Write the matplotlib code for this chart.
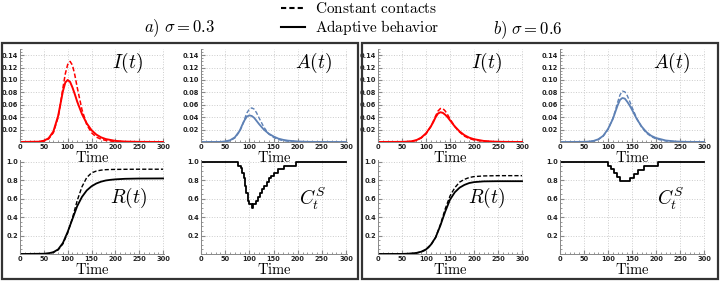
import matplotlib
matplotlib.use("Agg")
import matplotlib.pyplot as plt
from matplotlib.lines import Line2D
from matplotlib.patches import Rectangle
from matplotlib.ticker import MultipleLocator, FormatStrFormatter

plt.rcParams['mathtext.fontset'] = 'cm'

# ---- data ----
# sigma = 0.3
t_i1 = [0, 40, 50, 60, 70, 80, 85, 90, 95, 100, 105, 110, 115, 120, 130, 140, 150, 160, 170, 180, 200, 220, 250, 300]
i1_adapt = [0, 0.0005, 0.002, 0.006, 0.017, 0.042, 0.062, 0.082, 0.096, 0.100, 0.097, 0.088, 0.077, 0.065,
            0.045, 0.030, 0.019, 0.012, 0.0075, 0.0047, 0.0018, 0.0007, 0.0002, 0]
i1_const = [0, 0.0004, 0.0015, 0.005, 0.015, 0.040, 0.062, 0.087, 0.110, 0.125, 0.130, 0.124, 0.108, 0.088,
            0.052, 0.028, 0.015, 0.008, 0.0045, 0.0025, 0.0008, 0.0003, 0.0001, 0]
a1_adapt = [0, 0.0002, 0.001, 0.0028, 0.0075, 0.018, 0.027, 0.035, 0.041, 0.043, 0.042, 0.039, 0.034, 0.029,
            0.020, 0.0135, 0.009, 0.0055, 0.0035, 0.0022, 0.0009, 0.0003, 0.0001, 0]
a1_const = [0, 0.0002, 0.0007, 0.002, 0.0065, 0.017, 0.026, 0.037, 0.047, 0.053, 0.055, 0.053, 0.047, 0.039,
            0.024, 0.013, 0.0075, 0.004, 0.0023, 0.0013, 0.0004, 0.0001, 0, 0]
t_r = [0, 50, 60, 70, 80, 90, 100, 110, 120, 130, 140, 150, 160, 170, 180, 190, 200, 220, 250, 300]
r1_adapt = [0, 0.003, 0.008, 0.02, 0.05, 0.12, 0.24, 0.38, 0.52, 0.62, 0.69, 0.735, 0.765, 0.785, 0.798,
            0.805, 0.81, 0.816, 0.819, 0.82]
r1_const = [0, 0.002, 0.006, 0.017, 0.045, 0.11, 0.23, 0.39, 0.58, 0.73, 0.83, 0.88, 0.90, 0.91, 0.915,
            0.917, 0.918, 0.919, 0.92, 0.92]
t_c1 = [0, 77, 82, 85, 88, 91, 94, 97, 100, 106, 108, 114, 118, 122, 126, 131, 136, 140, 145, 150, 160, 172, 196, 300]
c1 = [1.0, 0.96, 0.93, 0.88, 0.82, 0.74, 0.66, 0.58, 0.54, 0.50, 0.54, 0.58, 0.62, 0.66, 0.70, 0.74, 0.78,
      0.82, 0.85, 0.88, 0.92, 0.96, 1.0, 1.0]

# sigma = 0.6
t_i2 = [0, 50, 60, 70, 80, 90, 100, 110, 115, 120, 125, 130, 135, 140, 145, 150, 160, 170, 180, 190, 200,
        220, 240, 260, 300]
i2_adapt = [0, 0.0002, 0.0005, 0.0012, 0.003, 0.007, 0.014, 0.025, 0.032, 0.040, 0.046, 0.048, 0.047, 0.044,
            0.040, 0.035, 0.025, 0.017, 0.011, 0.007, 0.0045, 0.0017, 0.0006, 0.0002, 0]
i2_const = [0, 0.0001, 0.0004, 0.001, 0.0027, 0.0065, 0.013, 0.025, 0.033, 0.042, 0.050, 0.054, 0.054, 0.050,
            0.044, 0.037, 0.025, 0.016, 0.0095, 0.0057, 0.0033, 0.0011, 0.0004, 0.0001, 0]
a2_adapt = [0, 0.0003, 0.0007, 0.0018, 0.0045, 0.010, 0.021, 0.037, 0.048, 0.059, 0.068, 0.071, 0.070, 0.065,
            0.059, 0.052, 0.037, 0.025, 0.016, 0.010, 0.0065, 0.0025, 0.0009, 0.0003, 0]
a2_const = [0, 0.0002, 0.0006, 0.0015, 0.004, 0.0095, 0.020, 0.038, 0.050, 0.064, 0.076, 0.082, 0.081, 0.075,
            0.066, 0.056, 0.038, 0.024, 0.0145, 0.0087, 0.005, 0.0017, 0.0006, 0.0002, 0]
r2_adapt = [0, 0.001, 0.003, 0.006, 0.012, 0.025, 0.05, 0.10, 0.18, 0.31, 0.46, 0.59, 0.67, 0.72, 0.75,
            0.77, 0.78, 0.788, 0.79, 0.79]
r2_const = [0, 0.001, 0.002, 0.005, 0.010, 0.022, 0.045, 0.095, 0.18, 0.32, 0.49, 0.63, 0.72, 0.78, 0.81,
            0.83, 0.84, 0.847, 0.85, 0.85]
t_c2 = [0, 100, 106, 112, 118, 124, 145, 155, 163, 175, 205, 300]
c2 = [1.0, 0.96, 0.92, 0.88, 0.84, 0.79, 0.83, 0.87, 0.91, 0.96, 1.0, 1.0]

RED = '#ff0000'
BLUE = '#5e81b5'


def style_axes(ax, top):
    ax.patch.set_visible(False)
    for s in ['top', 'right']:
        ax.spines[s].set_visible(False)
    for s in ['left', 'bottom']:
        ax.spines[s].set_color('#888888')
        ax.spines[s].set_linewidth(0.7)
    ax.set_xlim(0, 302)
    ax.xaxis.set_major_locator(MultipleLocator(50))
    ax.xaxis.set_minor_locator(MultipleLocator(10))
    if top:
        ax.set_ylim(0, 0.15)
        ax.set_yticks([0.02, 0.04, 0.06, 0.08, 0.10, 0.12, 0.14])
        ax.yaxis.set_minor_locator(MultipleLocator(0.005))
        ax.yaxis.set_major_formatter(FormatStrFormatter('%.2f'))
    else:
        ax.set_ylim(0, 1.02)
        ax.set_yticks([0.2, 0.4, 0.6, 0.8, 1.0])
        ax.yaxis.set_minor_locator(MultipleLocator(0.05))
        ax.yaxis.set_major_formatter(FormatStrFormatter('%.1f'))
    ax.tick_params(which='both', direction='in', color='#888888', labelsize=4.8, pad=1.5)
    ax.tick_params(which='major', length=3)
    ax.tick_params(which='minor', length=1.5)
    for lab in ax.get_xticklabels() + ax.get_yticklabels():
        lab.set_fontweight('bold')
        lab.set_color('#222222')
    ax.grid(True, which='major', linestyle=':', color='#cccccc', linewidth=0.7)
    ax.set_xlabel(r'$\mathrm{Time}$', fontsize=10.5, labelpad=0)


fig = plt.figure(figsize=(7.2, 2.81), dpi=100)
H = 281.0
W = 720.0


def add_ax(x0, x1, y_top, y_bot):
    return fig.add_axes([x0 / W, (H - y_bot) / H, (x1 - x0) / W, (y_bot - y_top) / H])


# pixel positions of the axes (x for t=0..302, y for top..bottom)
cols = [(20, 164), (201, 347), (378, 523), (560, 705)]
top_row = (49, 142)
bot_row = (160, 254)

groups = [
    (t_i1, i1_adapt, i1_const, t_i1, a1_adapt, a1_const, r1_adapt, r1_const, t_c1, c1),
    (t_i2, i2_adapt, i2_const, t_i2, a2_adapt, a2_const, r2_adapt, r2_const, t_c2, c2),
]

for g, (ti, ia, ic, ta, aa, ac, ra, rc, tc, cc) in enumerate(groups):
    c_i = cols[2 * g]
    c_a = cols[2 * g + 1]

    ax = add_ax(c_i[0], c_i[1], *top_row)
    ax.plot(ti, ic, color=RED, lw=1.1, ls=(0, (3, 1.5)))
    ax.plot(ti, ia, color=RED, lw=1.4)
    style_axes(ax, True)
    ax.text(225, 0.128, r'$I(t)$', fontsize=14, ha='center', va='center')

    ax = add_ax(c_a[0], c_a[1], *top_row)
    ax.plot(ta, ac, color=BLUE, lw=1.0, ls=(0, (3, 1.5)))
    ax.plot(ta, aa, color=BLUE, lw=1.3)
    style_axes(ax, True)
    ax.text(232, 0.128, r'$A(t)$', fontsize=14, ha='center', va='center')

    ax = add_ax(c_i[0], c_i[1], *bot_row)
    ax.plot(t_r, rc, color='black', lw=1.0, ls=(0, (3, 1.5)))
    ax.plot(t_r, ra, color='black', lw=1.3)
    style_axes(ax, False)
    ax.text(227, 0.61, r'$R(t)$', fontsize=14, ha='center', va='center')

    ax = add_ax(c_a[0], c_a[1], *bot_row)
    ax.plot(tc, cc, color='black', lw=1.3, drawstyle='steps-post')
    style_axes(ax, False)
    ax.text(230, 0.6, r'$C_t^S$', fontsize=14, ha='center', va='center')

# frames around each half
for x0 in (2, 362):
    fig.patches.append(Rectangle((x0 / W, 2 / H), 356 / W, 236.5 / H, transform=fig.transFigure,
                                 fill=False, edgecolor='#333333', linewidth=1.6))

fig.text(180 / W, 1 - 28 / H, r'$a)\ \sigma = 0.3$', fontsize=12, ha='center', va='center')
fig.text(528 / W, 1 - 30 / H, r'$b)\ \sigma = 0.6$', fontsize=12, ha='center', va='center')

handles = [Line2D([], [], color='black', lw=1.5, ls=(0, (2.5, 1.5))),
           Line2D([], [], color='black', lw=1.5)]
fig.legend(handles, [r'$\mathrm{Constant\ contacts}$', r'$\mathrm{Adaptive\ behavior}$'],
           loc='upper center', bbox_to_anchor=(0.5, 1.045), frameon=False, fontsize=11,
           handlelength=1.6, handletextpad=0.6, labelspacing=0.15)

fig.savefig('out.png', dpi=100)
